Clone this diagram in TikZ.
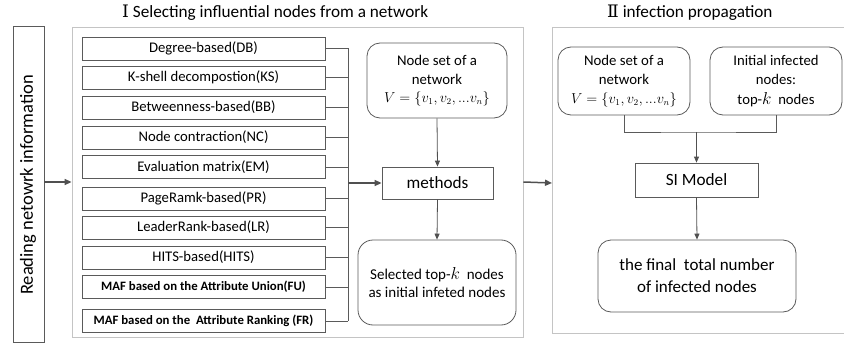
\documentclass[tikz,border=0pt]{standalone}
\usepackage{fontspec}
\setmainfont{Carlito}
\newfontfamily\numfont{DejaVu Serif}
\usetikzlibrary{arrows.meta}
\definecolor{boxline}{HTML}{5A5A5A}
\definecolor{panelline}{HTML}{C4C4C4}
\definecolor{arrowline}{HTML}{505050}
\newcommand{\setformula}{{\fontsize{13.5}{16}\selectfont$V=\{v_1,v_2,...v_n\}$}}
\newcommand{\topk}{{\fontsize{17}{16}\selectfont$k$}}
\tikzset{
  px/.style={x=1pt,y=-1pt},
  methodbox/.style={draw=boxline,line width=0.8pt,minimum width=243pt,minimum height=23pt,inner sep=0pt,font=\fontsize{14.7}{16}\selectfont},
  mafbox/.style={methodbox,font=\fontsize{12.8}{14}\selectfont\bfseries},
  roundbox/.style={draw=boxline,line width=0.8pt,rounded corners=13pt,inner sep=0pt,align=center},
  plainbox/.style={draw=boxline,line width=0.8pt,inner sep=0pt},
  panel/.style={draw=panelline,line width=0.8pt,inner sep=0pt},
  thinarrow/.style={draw=arrowline,line width=0.8pt,-{Triangle[length=6pt,width=5pt]}},
  thickarrow/.style={draw=arrowline,line width=1.5pt,-{Triangle[length=7pt,width=6pt]}},
  wire/.style={draw=boxline,line width=0.8pt},
  title/.style={font=\fontsize{17.2}{18}\selectfont,inner sep=0pt,anchor=west}
}
\begin{document}
\begin{tikzpicture}[px]
\useasboundingbox (0,0) rectangle (844,345);

% reading step
\node[plainbox,minimum width=31pt,minimum height=316pt] (read) at (28.5,184) {};
\node[rotate=90,font=\fontsize{18.5}{20}\selectfont] (readtxt) at (28,185) {Reading netowrk information};

% panel I
\node[panel,minimum width=451pt,minimum height=310pt] (panelA) at (297.5,182) {};
\node[title] (titleA) at (122,13) {{\numfont Ⅰ} Selecting influential nodes from a network};

\node[methodbox] (db) at (203.5,48.5) {Degree-based(DB)};
\node[methodbox] (ks) at (203.5,77.5) {K-shell decompostion(KS)};
\node[methodbox] (bb) at (203.5,107.5) {Betweenness-based(BB)};
\node[methodbox] (nc) at (203.5,137.5) {Node contraction(NC)};
\node[methodbox] (em) at (203.5,167) {Evaluation matrix(EM)};
\node[methodbox] (pr) at (203.5,198.5) {PageRamk-based(PR)};
\node[methodbox] (lr) at (203.5,227.5) {LeaderRank-based(LR)};
\node[methodbox] (hits) at (203.5,257.5) {HITS-based(HITS)};
\node[mafbox] (fu) at (203.5,287) {MAF based on the Attribute Union(FU)};
\node[mafbox] (fr) at (203.5,321) {MAF based on the\ \ Attribute Ranking (FR)};

\coordinate (bus) at (348,0);
\foreach \m in {db,ks,bb,nc,em,pr,lr,hits,fu,fr}
  \draw[wire] (\m.east) -- (\m.east -| bus);
\draw[wire] (bus |- db.east) -- (bus |- fr.east);

\node[roundbox,minimum width=140pt,minimum height=75pt,font=\fontsize{14.8}{19}\selectfont] (setA) at (437,80.5)
  {Node set of a\\network\\[-1pt]\setformula};
\node[plainbox,minimum width=111pt,minimum height=32pt,font=\fontsize{17.2}{18}\selectfont] (methods) at (437.5,183) {methods};
\node[roundbox,rounded corners=15pt,minimum width=158pt,minimum height=85pt,font=\fontsize{15}{18}\selectfont] (selected) at (437,282.5)
  {Selected top-\topk\ \ nodes\\as initial infeted nodes};

\draw[thickarrow] (bus |- methods.west) -- (methods.west);
\draw[thinarrow] (setA.south) -- (methods.north);
\draw[thinarrow] (methods.south) -- (selected.north);

% panel II (open on the right)
\draw[panel] (846,27) -- (552,27) -- (552,333) -- (846,333);
\coordinate (panelBwest) at (552,183);
\node[title] (titleB) at (607,13) {{\numfont Ⅱ} infection propagation};

\node[roundbox,minimum width=132pt,minimum height=68pt,font=\fontsize{14.8}{19.5}\selectfont] (setB) at (624,81)
  {Node set of a\\network\\[-1pt]\setformula};
\node[roundbox,minimum width=132pt,minimum height=68pt,font=\fontsize{14.7}{19.5}\selectfont] (init) at (776,81)
  {Initial infected\\nodes:\\top-\topk\ \ nodes};
\node[plainbox,minimum width=123pt,minimum height=34pt,font=\fontsize{17.2}{18}\selectfont] (si) at (696.5,180) {SI Model};
\node[roundbox,minimum width=198pt,minimum height=72pt,font=\fontsize{17}{22}\selectfont] (final) at (697,276)
  {the final\ \ total number\\of infected nodes};

\coordinate (join) at (696.5,132);
\draw[wire] (setB.south) |- (join) -| (init.south);
\draw[thinarrow] (join) -- (si.north);
\draw[thinarrow] (si.south) -- (final.north);

% flow between stages
\draw[thickarrow] (read.east |- panelA.west) -- (panelA.west);
\draw[thickarrow] (panelA.east) -- (panelBwest);
\end{tikzpicture}
\end{document}
